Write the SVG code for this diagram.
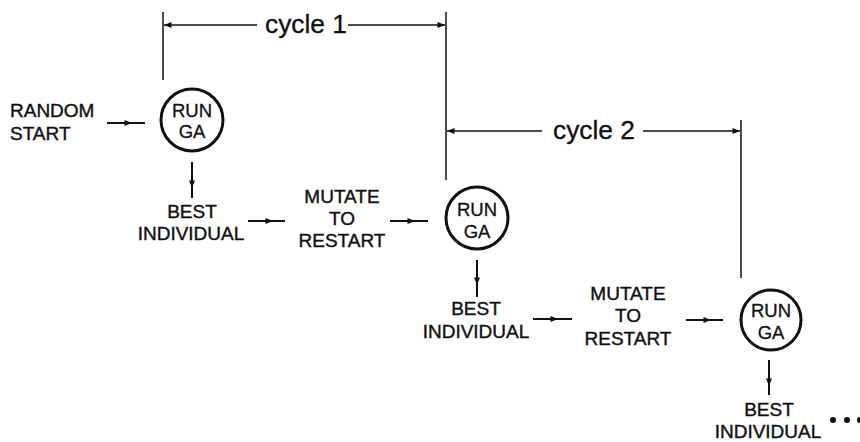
<svg xmlns="http://www.w3.org/2000/svg" width="860" height="442" viewBox="0 0 860 442">
<style>
.t{font-family:"Liberation Sans",Arial,sans-serif;font-size:19px;fill:#111;text-anchor:middle;stroke:#111;stroke-width:0.4}
.g{font-family:"Liberation Sans",Arial,sans-serif;font-size:18.5px;fill:#111;text-anchor:middle;stroke:#111;stroke-width:0.3}
.cy{font-family:"Liberation Sans",Arial,sans-serif;font-size:25px;fill:#111;stroke:#111;stroke-width:0.3}
.node circle{fill:none;stroke:#111;stroke-width:3}
.arr{fill:none;stroke:#111;stroke-width:2;marker-mid:url(#mid)}
.dim{fill:none;stroke:#111;stroke-width:1.5}
.dimA{fill:none;stroke:#111;stroke-width:1.6;marker-end:url(#end)}
</style>
<defs>
<marker id="mid" viewBox="0 0 10 8" refX="10" refY="4" markerWidth="9" markerHeight="6" markerUnits="userSpaceOnUse" orient="auto"><path d="M0,0 L10,4 L0,8 Z" fill="#111"/></marker>
<marker id="end" viewBox="0 0 10 8" refX="10" refY="4" markerWidth="11" markerHeight="6" markerUnits="userSpaceOnUse" orient="auto"><path d="M0,0 L10,4 L0,8 Z" fill="#111"/></marker>
</defs>

<g id="random-start"><text class="t" x="10" y="117" style="text-anchor:start">RANDOM</text><text class="t" x="10" y="140" style="text-anchor:start">START</text></g>

<g id="run-ga-1" class="node"><circle cx="192" cy="120" r="31"/><text class="g" x="192" y="117">RUN</text><text class="g" x="192" y="138">GA</text></g>
<g id="best-1"><text class="t" x="192" y="218">BEST</text><text class="t" x="191" y="240">INDIVIDUAL</text></g>
<g id="mutate-1"><text class="t" x="342" y="203">MUTATE</text><text class="t" x="342" y="225">TO</text><text class="t" x="342" y="247">RESTART</text></g>

<g id="run-ga-2" class="node"><circle cx="477" cy="218" r="31"/><text class="g" x="477" y="216">RUN</text><text class="g" x="477" y="238">GA</text></g>
<g id="best-2"><text class="t" x="476" y="315">BEST</text><text class="t" x="476" y="338">INDIVIDUAL</text></g>
<g id="mutate-2"><text class="t" x="628" y="300">MUTATE</text><text class="t" x="628" y="322">TO</text><text class="t" x="628" y="345">RESTART</text></g>

<g id="run-ga-3" class="node"><circle cx="771" cy="320" r="30"/><text class="g" x="771" y="317">RUN</text><text class="g" x="771" y="339">GA</text></g>
<g id="best-3"><text class="t" x="769" y="416">BEST</text><text class="t" x="768" y="438">INDIVIDUAL</text></g>
<g id="ellipsis" fill="#111"><circle cx="833" cy="420" r="3"/><circle cx="847" cy="420" r="3"/><circle cx="860" cy="420" r="3"/></g>

<g id="cycle-1"><text class="cy" x="265" y="33" textLength="82" lengthAdjust="spacingAndGlyphs">cycle 1</text></g>
<g id="cycle-2"><text class="cy" x="553" y="139" textLength="82" lengthAdjust="spacingAndGlyphs">cycle 2</text></g>

<g id="connectors">
<polyline class="arr" points="107,123 132,123 145,123"/>
<polyline class="arr" points="192,162 192,188 192,198"/>
<polyline class="arr" points="248,221 273,221 285,221"/>
<polyline class="arr" points="390,221 415,221 428,221"/>
<polyline class="arr" points="477,260 477,285 477,297"/>
<polyline class="arr" points="533,319 558,319 572,319"/>
<polyline class="arr" points="686,320 711,320 723,320"/>
<polyline class="arr" points="769,360 769,386 769,395"/>

<line class="dim" x1="163" y1="12" x2="163" y2="80"/>
<line class="dim" x1="446" y1="12" x2="446" y2="180"/>
<line class="dim" x1="741" y1="120" x2="741" y2="278"/>
<line class="dimA" x1="257" y1="25" x2="164" y2="25"/>
<line class="dimA" x1="348" y1="25" x2="445" y2="25"/>
<line class="dimA" x1="542" y1="131" x2="447" y2="131"/>
<line class="dimA" x1="643" y1="131" x2="740" y2="131"/>
</g>
</svg>
